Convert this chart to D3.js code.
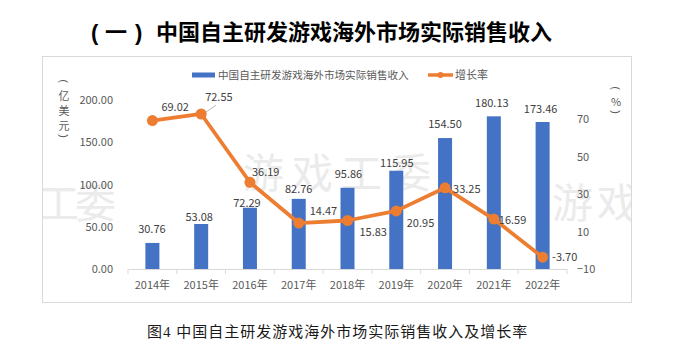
<!DOCTYPE html>
<html><head><meta charset="utf-8">
<script src="https://cdn.jsdelivr.net/npm/d3@7/dist/d3.min.js"></script>
<style>
html,body{margin:0;padding:0;background:#fff;}
svg{display:block;}
text{font-family:"Noto Sans CJK SC","Noto Sans",sans-serif;}
</style></head>
<body>
<svg id="chart" width="690" height="361"></svg>
<script>
// ---- data ----
const years = ["2014年","2015年","2016年","2017年","2018年","2019年","2020年","2021年","2022年"];
const revenue = [30.76, 53.08, 72.29, 82.76, 95.86, 115.95, 154.50, 180.13, 173.46];
const growth = [69.02, 72.55, 36.19, 14.47, 15.83, 20.95, 33.25, 16.59, -3.70];
const leftTicks = [0, 50, 100, 150, 200];
const rightTicks = [-10, 10, 30, 50, 70];
const seriesNames = ["中国自主研发游戏海外市场实际销售收入", "增长率"];
const titleText = "中国自主研发游戏海外市场实际销售收入";
const captionText = "图4 中国自主研发游戏海外市场实际销售收入及增长率";

// ---- label placement (layout only) ----
const barLabelShift = [[-0.5,-14],[-2,-7],[-3,-5],[0,-10],[1,-13.5],[0.5,-8],[0,-14],[-2,-13],[-2,-13]];
const lineLabelShift = [[9,-14],[4,-17],[2,-10],[11,-12],[12,11.5],[10.5,12],[8,1],[5,1],[9.5,0]];

const BLUE = "#4472C4", ORANGE = "#ED7D31";
const svg = d3.select("#chart");

// title
const tg = svg.append("g").attr("font-weight", 700).attr("fill", "#000").attr("font-size", 22);
tg.append("text").attr("x", 91).attr("y", 39.5).style("font-family","Liberation Sans, sans-serif").text("(");
tg.append("text").attr("x", 105).attr("y", 39.5).text("一");
tg.append("text").attr("x", 135).attr("y", 39.5).style("font-family","Liberation Sans, sans-serif").text(")");
tg.append("text").attr("x", 156).attr("y", 39.5).text(titleText);

// frame
svg.append("rect").attr("x", 42.5).attr("y", 56.5).attr("width", 589).attr("height", 246)
  .attr("fill", "#fff").attr("stroke", "#d9d9d9");
svg.append("clipPath").attr("id", "frameClip").append("rect")
  .attr("x", 43).attr("y", 57).attr("width", 588).attr("height", 245);

// watermark
const wm = svg.append("g").attr("clip-path", "url(#frameClip)").attr("fill", "#ebebeb").attr("font-size", 41);
wm.append("text").attr("x", 38).attr("y", 218).attr("letter-spacing", -4).text("工委");
wm.append("text").attr("x", 243).attr("y", 188).attr("letter-spacing", 8).text("游戏工委");
wm.append("text").attr("x", 552).attr("y", 218).attr("letter-spacing", 4).text("游戏");

// scales
const x = d3.scaleBand().domain(years).range([128, 567]).padding(0);
const yL = d3.scaleLinear().domain([0, 200]).range([269, 99.5]);
const yR = d3.scaleLinear().domain([-10, 80]).range([269, 100]);
const cx = d => x(d) + x.bandwidth() / 2;
const barW = 14;

// bars
svg.append("g").selectAll("rect").data(years).join("rect")
  .attr("x", d => cx(d) - barW / 2)
  .attr("y", (d, i) => yL(revenue[i]))
  .attr("width", barW)
  .attr("height", (d, i) => yL(0) - yL(revenue[i]))
  .attr("fill", BLUE);

// x axis
const xAxis = svg.append("g").attr("transform", "translate(0,269)")
  .call(d3.axisBottom(x).tickSize(0).tickPadding(12));
xAxis.select(".domain").attr("stroke", "#d9d9d9");
xAxis.selectAll("text").attr("font-size", 11).attr("fill", "#595959")
  .style("font-family", "\"Noto Sans CJK SC\", sans-serif");
svg.append("g").selectAll("line").data(d3.range(years.length + 1)).join("line")
  .attr("x1", i => x.range()[0] + i * x.step()).attr("x2", i => x.range()[0] + i * x.step())
  .attr("y1", 269).attr("y2", 274).attr("stroke", "#d9d9d9");

// left axis
const la = svg.append("g").attr("transform", "translate(117,0)")
  .call(d3.axisLeft(yL).tickValues(leftTicks).tickSize(0).tickPadding(4).tickFormat(d3.format(".2f")));
la.select(".domain").remove();
la.selectAll("text").attr("font-size", 11).attr("fill", "#595959").attr("dy", "0.36em")
  .style("font-family", "\"Noto Sans CJK SC\", sans-serif");

// right axis
const ra = svg.append("g").attr("transform", "translate(573,0)")
  .call(d3.axisRight(yR).tickValues(rightTicks).tickSize(0).tickPadding(4));
ra.select(".domain").remove();
ra.selectAll("text").attr("font-size", 11).attr("fill", "#595959").attr("dy", "0.36em")
  .style("font-family", "\"Noto Sans CJK SC\", sans-serif");

// unit labels (vertical)
function vertical(xc, ys, chars) {
  const g = svg.append("g").attr("font-size", 11).attr("fill", "#595959");
  chars.forEach((c, i) => {
    const t = g.append("text").attr("x", xc).attr("y", ys[i]).attr("text-anchor", "middle")
      .attr("dominant-baseline", "central").text(c);
    if (c === "(" || c === ")") {
      t.attr("transform", `rotate(90,${xc},${ys[i]})`).style("font-family", "Liberation Sans, sans-serif");
    }
  });
}
vertical(64, [81, 95, 110, 125, 136], ["(", "亿", "美", "元", ")"]);
vertical(616, [88, 101, 112], ["(", "%", ")"]);

// line
const line = d3.line().x((d, i) => cx(years[i])).y(d => yR(d));
svg.append("path").datum(growth).attr("d", line).attr("fill", "none")
  .attr("stroke", ORANGE).attr("stroke-width", 3.8).attr("stroke-linejoin", "round");
svg.append("g").selectAll("circle").data(growth).join("circle")
  .attr("cx", (d, i) => cx(years[i])).attr("cy", d => yR(d)).attr("r", 5.5).attr("fill", ORANGE);

// leader line for 2015 label
svg.append("line")
  .attr("x1", cx(years[1]) + 5).attr("y1", yR(growth[1]) - 2)
  .attr("x2", cx(years[1]) + 15).attr("y2", yR(growth[1]) - 9)
  .attr("stroke", "#a6a6a6").attr("stroke-width", 0.8);

// bar labels
svg.append("g").attr("font-size", 11).attr("fill", "#404040").attr("text-anchor", "middle")
  .selectAll("text").data(revenue).join("text")
  .attr("x", (d, i) => cx(years[i]) + barLabelShift[i][0])
  .attr("y", (d, i) => yL(d) + barLabelShift[i][1] + 4)
  .text(d => d.toFixed(2));

// line labels
svg.append("g").attr("font-size", 11).attr("fill", "#404040")
  .selectAll("text").data(growth).join("text")
  .attr("x", (d, i) => cx(years[i]) + lineLabelShift[i][0])
  .attr("y", (d, i) => yR(d) + lineLabelShift[i][1] + 4)
  .text(d => d.toFixed(2));

// legend
const lg = svg.append("g").attr("fill", "#595959");
lg.append("rect").attr("x", 192).attr("y", 72.5).attr("width", 23).attr("height", 5).attr("fill", BLUE);
lg.append("text").attr("x", 218).attr("y", 79).attr("font-size", 10.6).text(seriesNames[0]);
lg.append("line").attr("x1", 428).attr("x2", 453).attr("y1", 75).attr("y2", 75)
  .attr("stroke", ORANGE).attr("stroke-width", 3.5);
lg.append("circle").attr("cx", 440.5).attr("cy", 75).attr("r", 3).attr("fill", ORANGE);
lg.append("text").attr("x", 455).attr("y", 79).attr("font-size", 11).text(seriesNames[1]);

// caption
svg.append("text").attr("x", 147).attr("y", 337).attr("font-size", 15).attr("letter-spacing", 1)
  .attr("fill", "#1a1a1a").style("font-family", "\"Liberation Serif\", \"Noto Sans CJK SC\", serif")
  .text(captionText);
</script>
</body></html>
